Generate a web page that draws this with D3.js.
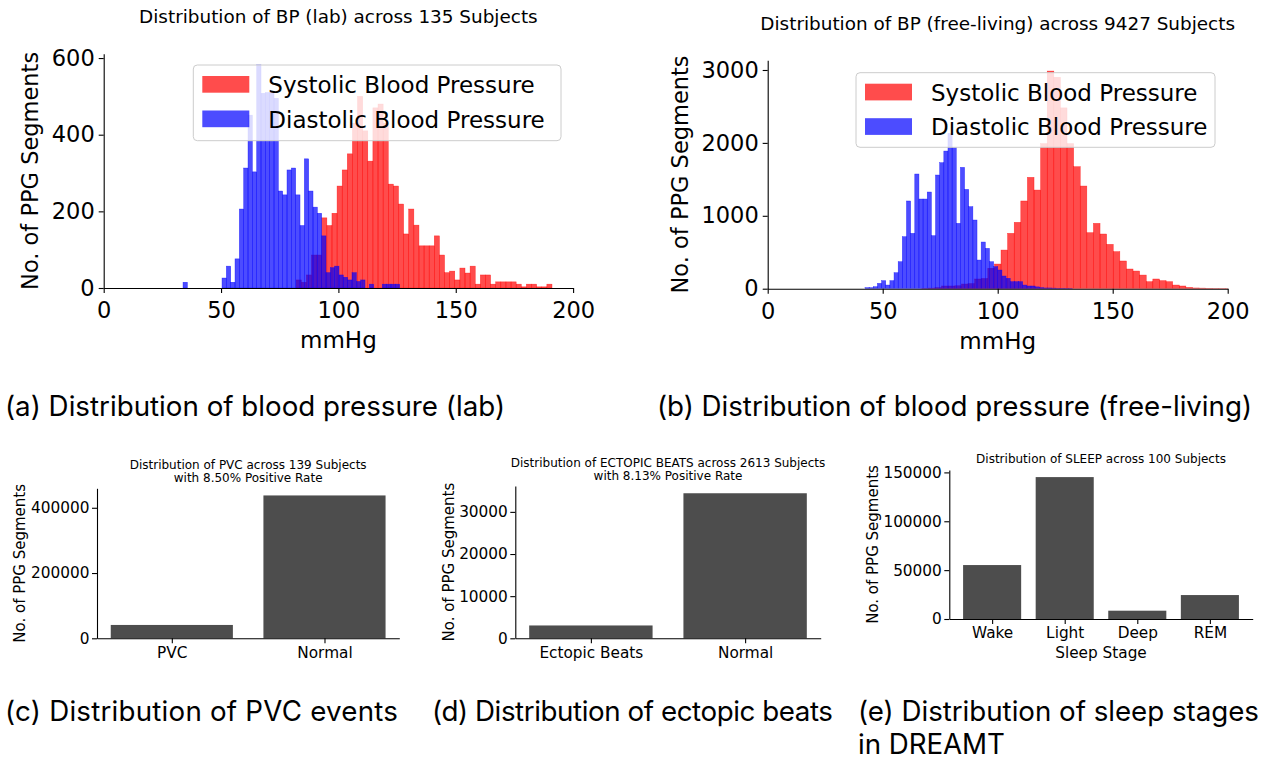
<!DOCTYPE html>
<html><head><meta charset="utf-8">
<script src="https://cdn.jsdelivr.net/npm/d3@7"></script>
<style>
body{margin:0;background:#fff}
svg text{fill:#000}
</style>
</head><body>
<svg id="c" width="1262" height="760" font-family="DejaVu Sans"></svg>
<script>
// ---------------- DATA ----------------
// histogram counts (50 bins each) and bin ranges (mmHg)
const labSystolic = [21,15,34,86,86,183,163,195,266,308,350,430,500,410,331,470,480,430,271,266,219,141,206,164,110,110,110,136,86,40,44,21,52,39,57,10,34,34,10,16,16,16,16,10,3,10,10,3,3,10];
const labSystolicRange = [82, 191];
const labDiastolic = [15,0,0,0,0,0,0,0,0,26,57,15,76,206,313,451,303,582,508,510,510,495,253,243,308,313,243,163,337,253,211,195,136,40,53,57,34,28,21,40,17,21,0,10,0,0,10,10,10,10];
const labDiastolicRange = [33.8, 126.1];
const flSystolic = [3,8,15,37,37,40,64,70,133,140,280,338,530,759,910,1203,1527,1353,1990,2985,2900,2480,1990,1673,1408,768,896,750,608,508,380,270,242,187,96,133,110,96,50,37,18,10,8,6,4,3,2,1,1,1];
const flSystolicRange = [67, 210.5];
const flDiastolic = [14,14,27,73,110,50,110,219,370,713,1203,759,1573,1230,1230,1326,727,1559,1728,1888,2131,1934,896,1664,1362,1125,942,393,640,553,370,302,256,174,142,96,96,96,50,37,37,25,14,10,10,8,6,5,4,3];
const flDiastolicRange = [42.3, 132.5];
const bpXTicks = [0, 50, 100, 150, 200];
const labYTicks = [0, 200, 400, 600];
const flYTicks = [0, 1000, 2000, 3000];
const seriesNames = ["Systolic Blood Pressure", "Diastolic Blood Pressure"];

const pvcCategories = ["PVC", "Normal"];
const pvcValues = [40900, 437800];
const pvcYTicks = [0, 200000, 400000];
const ectopicCategories = ["Ectopic Beats", "Normal"];
const ectopicValues = [3046, 34420];
const ectopicYTicks = [0, 10000, 20000, 30000];
const sleepCategories = ["Wake", "Light", "Deep", "REM"];
const sleepValues = [55200, 145200, 8500, 24500];
const sleepYTicks = [0, 50000, 100000, 150000];

const captions = [
  {lines:["(a) Distribution of blood pressure (lab)"], widths:[500], x:5, y:416},
  {lines:["(b) Distribution of blood pressure (free-living)"], widths:[595], x:657, y:416},
  {lines:["(c) Distribution of PVC events"], widths:[393], x:5, y:721},
  {lines:["(d) Distribution of ectopic beats"], widths:[401], x:432, y:721},
  {lines:["(e) Distribution of sleep stages","in DREAMT"], widths:[401, 147], x:858, y:721}
];

// ---------------- DRAW ----------------
const svg = d3.select("#c");
const RED = "rgba(255,0,0,0.7)", BLUE = "rgba(0,0,255,0.7)";

function styleAxis(g, fs) {
  g.attr("font-family", "DejaVu Sans").attr("font-size", fs);
  g.selectAll("path.domain").attr("stroke", "#000").attr("stroke-width", 1.1);
  g.selectAll(".tick line").attr("stroke", "#000").attr("stroke-width", 1.1);
  g.selectAll(".tick text").attr("fill", "#000");
}

function histPanel(cfg) {
  const g = svg.append("g");
  const all = cfg.series.flatMap(s => s.counts);
  const yMax = d3.max(all) * 1.05;
  const x = d3.scaleLinear().domain([0, 200]).range([cfg.x0, cfg.x1]);
  const y = d3.scaleLinear().domain([0, yMax]).range([cfg.yB, cfg.yT]);
  const clipId = "clip" + cfg.id;
  svg.append("clipPath").attr("id", clipId).append("rect")
    .attr("x", cfg.x0).attr("y", cfg.yT - 5).attr("width", cfg.x1 - cfg.x0).attr("height", cfg.yB - cfg.yT + 5);
  const bars = g.append("g").attr("clip-path", `url(#${clipId})`);
  cfg.series.forEach(s => {
    const n = s.counts.length, lo = s.range[0], hi = s.range[1];
    const edges = d3.range(n + 1).map(i => lo + (hi - lo) * i / n);
    const bins = s.counts.map((c, i) => ({c, a: edges[i], b: edges[i + 1]})).filter(d => d.c > 0);
    bars.append("g").selectAll("rect").data(bins).join("rect")
      .attr("x", d => x(d.a)).attr("width", d => x(d.b) - x(d.a))
      .attr("y", d => y(d.c)).attr("height", d => y(0) - y(d.c))
      .attr("fill", s.color).attr("stroke", s.color).attr("stroke-width", 0.5);
  });
  const xa = g.append("g").attr("transform", `translate(0,${cfg.yB})`)
    .call(d3.axisBottom(x).tickValues(bpXTicks).tickSize(5).tickPadding(9).tickSizeOuter(0));
  styleAxis(xa, 22.5);
  const ya = g.append("g").attr("transform", `translate(${cfg.x0},0)`)
    .call(d3.axisLeft(y).tickValues(cfg.yTicks).tickFormat(d3.format("d")).tickSize(5).tickPadding(4).tickSizeOuter(0));
  styleAxis(ya, 22.5);
  g.append("text").attr("x", (cfg.x0 + cfg.x1) / 2).attr("y", cfg.yB + 60)
    .attr("text-anchor", "middle").attr("font-size", 23).text("mmHg");
  g.append("text").attr("transform", `translate(${cfg.ylabX},${(cfg.yB + cfg.yT) / 2}) rotate(-90)`)
    .attr("text-anchor", "middle").attr("font-size", 22.5).text("No. of PPG Segments");
  g.append("text").attr("x", (cfg.x0 + cfg.x1) / 2).attr("y", cfg.titleY)
    .attr("text-anchor", "middle").attr("font-size", 18.4).text(cfg.title);
  // legend
  const L = cfg.legend;
  g.append("rect").attr("x", L.x).attr("y", L.y).attr("width", L.w).attr("height", L.h).attr("rx", 4)
    .attr("fill", "rgba(255,255,255,0.8)").attr("stroke", "#cccccc").attr("stroke-width", 1);
  cfg.series.forEach((s, i) => {
    g.append("rect").attr("x", L.x + 9).attr("y", L.y + 11 + i * 34.5).attr("width", 47).attr("height", 16.7)
      .attr("fill", s.color);
    g.append("text").attr("x", L.x + 75).attr("y", L.y + 28 + i * 34.5)
      .attr("font-size", 23).text(s.name);
  });
}

histPanel({
  id: "a", x0: 103.7, x1: 573.1, yB: 288, yT: 53.8, yTicks: labYTicks, ylabX: 38, titleY: 23,
  title: "Distribution of BP (lab) across 135 Subjects",
  series: [
    {counts: labSystolic, range: labSystolicRange, color: RED, name: seriesNames[0]},
    {counts: labDiastolic, range: labDiastolicRange, color: BLUE, name: seriesNames[1]}
  ],
  legend: {x: 193.3, y: 65, w: 367.7, h: 75.7}
});
histPanel({
  id: "b", x0: 767.7, x1: 1227.7, yB: 288.7, yT: 60.2, yTicks: flYTicks, ylabX: 688, titleY: 30,
  title: "Distribution of BP (free-living) across 9427 Subjects",
  series: [
    {counts: flSystolic, range: flSystolicRange, color: RED, name: seriesNames[0]},
    {counts: flDiastolic, range: flDiastolicRange, color: BLUE, name: seriesNames[1]}
  ],
  legend: {x: 856, y: 72.7, w: 359, h: 74.6}
});

function barPanel(cfg) {
  const g = svg.append("g");
  const n = cfg.cats.length;
  const m = 0.05 * (n - 0.2);
  const x = d3.scaleLinear().domain([-0.4 - m, n - 0.6 + m]).range([cfg.x0, cfg.x1]);
  const y = d3.scaleLinear().domain([0, d3.max(cfg.values) * 1.05]).range([cfg.yB, cfg.yT]);
  g.selectAll("rect").data(cfg.values).join("rect")
    .attr("x", (d, i) => x(i - 0.4)).attr("width", (d, i) => x(i + 0.4) - x(i - 0.4))
    .attr("y", d => y(d)).attr("height", d => y(0) - y(d)).attr("fill", "#4d4d4d");
  const xa = g.append("g").attr("transform", `translate(0,${cfg.yB})`)
    .call(d3.axisBottom(x).tickValues(d3.range(n)).tickFormat(i => cfg.cats[i]).tickSize(5).tickPadding(3.5).tickSizeOuter(0));
  styleAxis(xa, 15.3);
  const ya = g.append("g").attr("transform", `translate(${cfg.x0},0)`)
    .call(d3.axisLeft(y).tickValues(cfg.yTicks).tickFormat(d3.format("d")).tickSize(5).tickPadding(2.5).tickSizeOuter(0));
  styleAxis(ya, 15.3);
  g.append("text").attr("transform", `translate(${cfg.ylabX},${(cfg.yB + cfg.yT) / 2}) rotate(-90)`)
    .attr("text-anchor", "middle").attr("font-size", 15).text("No. of PPG Segments");
  cfg.title.forEach((t, i) => g.append("text").attr("x", (cfg.x0 + cfg.x1) / 2).attr("y", cfg.titleY + i * 13.3)
    .attr("text-anchor", "middle").attr("font-size", 12).text(t));
  if (cfg.xlabel) g.append("text").attr("x", (cfg.x0 + cfg.x1) / 2).attr("y", cfg.yB + 39)
    .attr("text-anchor", "middle").attr("font-size", 15.3).text(cfg.xlabel);
}

barPanel({x0: 97, x1: 399.3, yB: 638.3, yT: 488.3, cats: pvcCategories, values: pvcValues, yTicks: pvcYTicks,
  ylabX: 25, titleY: 469, title: ["Distribution of PVC across 139 Subjects", "with 8.50% Positive Rate"]});
barPanel({x0: 515.3, x1: 820.7, yB: 638.3, yT: 486, cats: ectopicCategories, values: ectopicValues, yTicks: ectopicYTicks,
  ylabX: 453.5, titleY: 467, title: ["Distribution of ECTOPIC BEATS across 2613 Subjects", "with 8.13% Positive Rate"]});
barPanel({x0: 949.3, x1: 1252.7, yB: 619, yT: 470, cats: sleepCategories, values: sleepValues, yTicks: sleepYTicks,
  ylabX: 878, titleY: 463, title: ["Distribution of SLEEP across 100 Subjects"], xlabel: "Sleep Stage"});

// captions (font size fitted so caption (a) spans the reference width)
const capG = svg.append("g").attr("font-family", "Inter");
const probe = capG.append("text").attr("font-size", 25).text(captions[0].lines[0]);
const capSize = 25 * 500 / probe.node().getComputedTextLength();
probe.remove();
captions.forEach(c => c.lines.forEach((l, i) => {
  capG.append("text").attr("x", c.x).attr("y", c.y + i * 33).attr("font-size", capSize)
    .attr("textLength", c.widths[i]).attr("lengthAdjust", "spacing").text(l);
}));
</script>
</body></html>
